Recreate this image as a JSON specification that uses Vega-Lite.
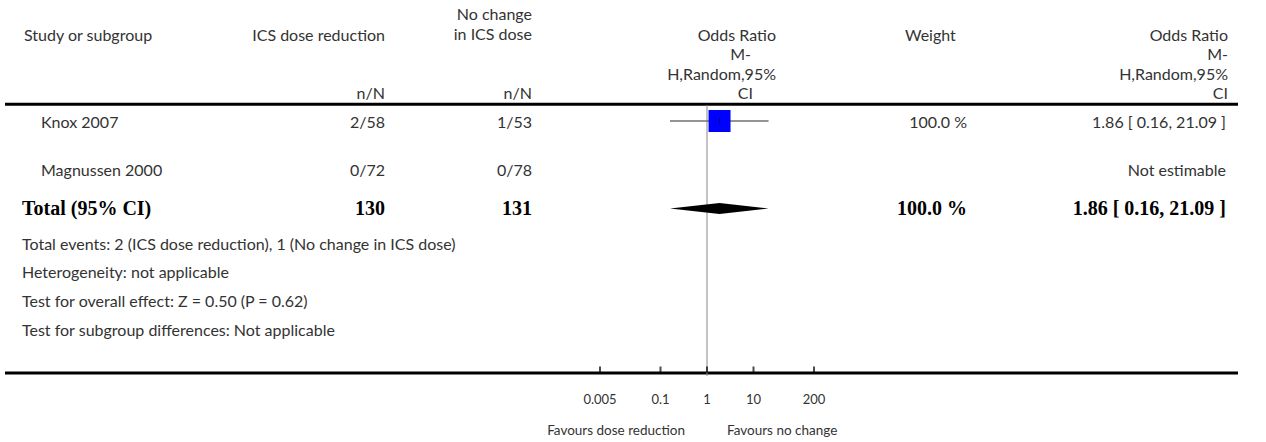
{
  "$schema": "https://vega.github.io/schema/vega-lite/v6.json",
  "width": 1266,
  "height": 442,
  "autosize": {"type": "fit", "contains": "padding"},
  "padding": 0,
  "background": "white",
  "config": {"view": {"stroke": null}, "axis": {"disable": true}},
  "datasets": {
    "textLeft": [
      {"t": "Study or subgroup", "x": 2.4, "y": 3.6},
      {"t": "Weight", "x": 90.5, "y": 3.6},
      {"t": "Knox 2007", "x": 4.1, "y": 12.3},
      {"t": "Magnussen 2000", "x": 4.1, "y": 17.1},
      {"t": "Total events: 2 (ICS dose reduction), 1 (No change in ICS dose)", "x": 2.2, "y": 24.5},
      {"t": "Heterogeneity: not applicable", "x": 2.2, "y": 27.3},
      {"t": "Test for overall effect: Z = 0.50 (P = 0.62)", "x": 2.2, "y": 30.2},
      {"t": "Test for subgroup differences: Not applicable", "x": 2.2, "y": 33.1}
    ],
    "textRight": [
      {"t": "ICS dose reduction", "x": 38.5, "y": 3.6},
      {"t": "No change", "x": 53.2, "y": 1.5},
      {"t": "in ICS dose", "x": 53.2, "y": 3.5},
      {"t": "n/N", "x": 38.5, "y": 9.4},
      {"t": "n/N", "x": 53.2, "y": 9.4},
      {"t": "Odds Ratio", "x": 77.6, "y": 3.6},
      {"t": "M-", "x": 75.1, "y": 5.5},
      {"t": "H,Random,95%", "x": 77.6, "y": 7.5},
      {"t": "CI", "x": 75.3, "y": 9.4},
      {"t": "Odds Ratio", "x": 122.8, "y": 3.6},
      {"t": "M-", "x": 122.8, "y": 5.5},
      {"t": "H,Random,95%", "x": 122.8, "y": 7.5},
      {"t": "CI", "x": 122.8, "y": 9.4},
      {"t": "2/58", "x": 38.5, "y": 12.3},
      {"t": "1/53", "x": 53.2, "y": 12.3},
      {"t": "0/72", "x": 38.5, "y": 17.1},
      {"t": "0/78", "x": 53.2, "y": 17.1},
      {"t": "100.0 %", "x": 96.7, "y": 12.3},
      {"t": "1.86 [ 0.16, 21.09 ]", "x": 122.6, "y": 12.3},
      {"t": "Not estimable", "x": 122.6, "y": 17.1}
    ],
    "axisLabels": [
      {"t": "Favours dose reduction", "x": 68.5, "y": 43.1, "side": "left"},
      {"t": "Favours no change", "x": 72.7, "y": 43.1, "side": "right"}
    ],
    "boldLeft": [
      {"t": "Total (95% CI)", "x": 2.2, "y": 20.9}
    ],
    "boldRight": [
      {"t": "130", "x": 38.5, "y": 20.9},
      {"t": "131", "x": 53.2, "y": 20.9},
      {"t": "100.0 %", "x": 96.7, "y": 20.9},
      {"t": "1.86 [ 0.16, 21.09 ]", "x": 122.6, "y": 20.9}
    ],
    "rules": [
      {"x1": 0.5, "x2": 123.8, "y": 10.43},
      {"x1": 0.5, "x2": 123.8, "y": 37.3}
    ],
    "studies": [
      {"study": "Knox 2007", "or": 1.86, "lo": 0.16, "hi": 21.09, "y": 12.1}
    ],
    "diamond": [
      {"or": 0.16, "top": 20.85, "bot": 20.85},
      {"or": 1.86, "top": 20.3, "bot": 21.4},
      {"or": 21.09, "top": 20.85, "bot": 20.85}
    ],
    "ticks": [
      {"or": 0.005, "label": "0.005"},
      {"or": 0.1, "label": "0.1"},
      {"or": 1, "label": "1"},
      {"or": 10, "label": "10"},
      {"or": 200, "label": "200"}
    ],
    "ref": [{"or": 1, "y1": 10.5, "y2": 37.6}]
  },
  "resolve": {"scale": {"x": "independent"}},
  "layer": [
    {
      "data": {"name": "rules"},
      "mark": {"type": "rule", "color": "black", "strokeWidth": 3},
      "encoding": {
        "x": {"field": "x1", "type": "quantitative", "scale": {"domain": [0, 126.6], "nice": false, "zero": false}},
        "x2": {"field": "x2"},
        "y": {"field": "y", "type": "quantitative", "scale": {"domain": [0, 44.2], "range": [0, 442], "nice": false, "zero": false}}
      }
    },
    {
      "data": {"name": "ref"},
      "mark": {"type": "rule", "color": "#888888", "strokeWidth": 1},
      "encoding": {
        "x": {"field": "or", "type": "quantitative", "scale": {"type": "log", "domain": [0.005, 200], "range": [600, 814]}},
        "y": {"field": "y1", "type": "quantitative", "scale": {"domain": [0, 44.2], "range": [0, 442], "nice": false, "zero": false}},
        "y2": {"field": "y2"}
      }
    },
    {
      "data": {"name": "studies"},
      "mark": {"type": "rule", "color": "#707070", "strokeWidth": 1.7},
      "encoding": {
        "x": {"field": "lo", "type": "quantitative", "scale": {"type": "log", "domain": [0.005, 200], "range": [600, 814]}},
        "x2": {"field": "hi"},
        "y": {"field": "y", "type": "quantitative", "scale": {"domain": [0, 44.2], "range": [0, 442], "nice": false, "zero": false}}
      }
    },
    {
      "data": {"name": "studies"},
      "mark": {"type": "point", "shape": "square", "filled": true, "color": "#0000ff", "size": 484, "opacity": 1},
      "encoding": {
        "x": {"field": "or", "type": "quantitative", "scale": {"type": "log", "domain": [0.005, 200], "range": [600, 814]}},
        "y": {"field": "y", "type": "quantitative", "scale": {"domain": [0, 44.2], "range": [0, 442], "nice": false, "zero": false}}
      }
    },
    {
      "data": {"name": "studies"},
      "mark": {"type": "tick", "orient": "vertical", "color": "black", "size": 5, "thickness": 1},
      "encoding": {
        "x": {"field": "or", "type": "quantitative", "scale": {"type": "log", "domain": [0.005, 200], "range": [600, 814]}},
        "y": {"field": "y", "type": "quantitative", "scale": {"domain": [0, 44.2], "range": [0, 442], "nice": false, "zero": false}}
      }
    },
    {
      "data": {"name": "diamond"},
      "mark": {"type": "area", "color": "black", "opacity": 1},
      "encoding": {
        "x": {"field": "or", "type": "quantitative", "scale": {"type": "log", "domain": [0.005, 200], "range": [600, 814]}},
        "y": {"field": "top", "type": "quantitative", "scale": {"domain": [0, 44.2], "range": [0, 442], "nice": false, "zero": false}},
        "y2": {"field": "bot"}
      }
    },
    {
      "data": {"name": "ticks"},
      "mark": {"type": "tick", "orient": "vertical", "color": "black", "size": 6, "thickness": 2},
      "encoding": {
        "x": {"field": "or", "type": "quantitative", "scale": {"type": "log", "domain": [0.005, 200], "range": [600, 814]}},
        "y": {"datum": 36.95, "type": "quantitative", "scale": {"domain": [0, 44.2], "range": [0, 442], "nice": false, "zero": false}}
      }
    },
    {
      "data": {"name": "ticks"},
      "mark": {"type": "text", "font": "Lato", "fontSize": 13, "color": "#333333", "align": "center", "baseline": "middle"},
      "encoding": {
        "x": {"field": "or", "type": "quantitative", "scale": {"type": "log", "domain": [0.005, 200], "range": [600, 814]}},
        "y": {"datum": 40.0, "type": "quantitative", "scale": {"domain": [0, 44.2], "range": [0, 442], "nice": false, "zero": false}},
        "text": {"field": "label"}
      }
    },
    {
      "data": {"name": "axisLabels"},
      "transform": [{"filter": "datum.side == 'left'"}],
      "mark": {"type": "text", "font": "Lato", "fontSize": 13.5, "color": "#333333", "align": "right", "baseline": "middle"},
      "encoding": {
        "x": {"field": "x", "type": "quantitative", "scale": {"domain": [0, 126.6], "nice": false, "zero": false}},
        "y": {"field": "y", "type": "quantitative", "scale": {"domain": [0, 44.2], "range": [0, 442], "nice": false, "zero": false}},
        "text": {"field": "t"}
      }
    },
    {
      "data": {"name": "axisLabels"},
      "transform": [{"filter": "datum.side == 'right'"}],
      "mark": {"type": "text", "font": "Lato", "fontSize": 13.5, "color": "#333333", "align": "left", "baseline": "middle"},
      "encoding": {
        "x": {"field": "x", "type": "quantitative", "scale": {"domain": [0, 126.6], "nice": false, "zero": false}},
        "y": {"field": "y", "type": "quantitative", "scale": {"domain": [0, 44.2], "range": [0, 442], "nice": false, "zero": false}},
        "text": {"field": "t"}
      }
    },
    {
      "data": {"name": "textLeft"},
      "mark": {"type": "text", "font": "Lato", "fontSize": 16, "color": "#333333", "align": "left", "baseline": "middle"},
      "encoding": {
        "x": {"field": "x", "type": "quantitative", "scale": {"domain": [0, 126.6], "nice": false, "zero": false}},
        "y": {"field": "y", "type": "quantitative", "scale": {"domain": [0, 44.2], "range": [0, 442], "nice": false, "zero": false}},
        "text": {"field": "t"}
      }
    },
    {
      "data": {"name": "textRight"},
      "mark": {"type": "text", "font": "Lato", "fontSize": 16, "color": "#333333", "align": "right", "baseline": "middle"},
      "encoding": {
        "x": {"field": "x", "type": "quantitative", "scale": {"domain": [0, 126.6], "nice": false, "zero": false}},
        "y": {"field": "y", "type": "quantitative", "scale": {"domain": [0, 44.2], "range": [0, 442], "nice": false, "zero": false}},
        "text": {"field": "t"}
      }
    },
    {
      "data": {"name": "boldLeft"},
      "mark": {"type": "text", "font": "Liberation Serif", "fontSize": 20, "fontWeight": "bold", "color": "black", "align": "left", "baseline": "middle"},
      "encoding": {
        "x": {"field": "x", "type": "quantitative", "scale": {"domain": [0, 126.6], "nice": false, "zero": false}},
        "y": {"field": "y", "type": "quantitative", "scale": {"domain": [0, 44.2], "range": [0, 442], "nice": false, "zero": false}},
        "text": {"field": "t"}
      }
    },
    {
      "data": {"name": "boldRight"},
      "mark": {"type": "text", "font": "Liberation Serif", "fontSize": 20, "fontWeight": "bold", "color": "black", "align": "right", "baseline": "middle"},
      "encoding": {
        "x": {"field": "x", "type": "quantitative", "scale": {"domain": [0, 126.6], "nice": false, "zero": false}},
        "y": {"field": "y", "type": "quantitative", "scale": {"domain": [0, 44.2], "range": [0, 442], "nice": false, "zero": false}},
        "text": {"field": "t"}
      }
    }
  ]
}
